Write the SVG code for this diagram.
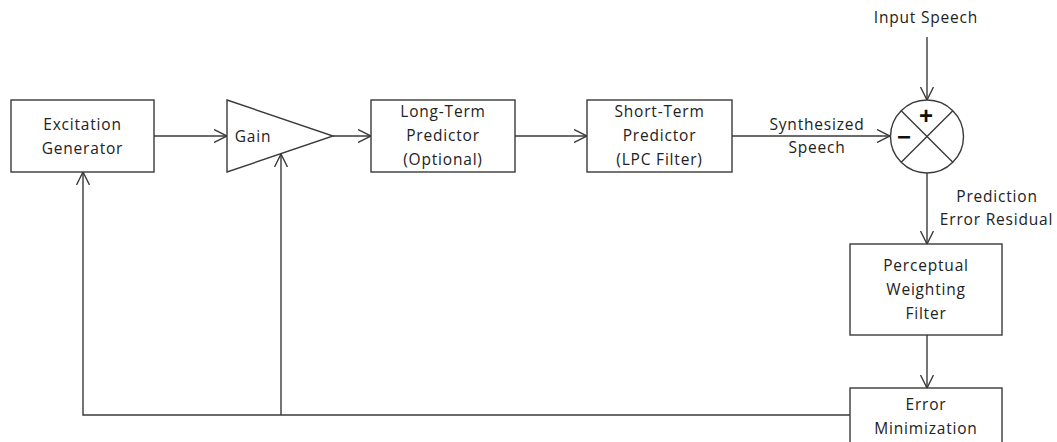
<svg xmlns="http://www.w3.org/2000/svg" width="1057" height="442" viewBox="0 0 1057 442">
  <style>
    .box { fill: #ffffff; stroke: #3a3a3a; stroke-width: 1.4; }
    .wire { fill: none; stroke: #3a3a3a; stroke-width: 1.4; }
    .lbl { font-family: "Open Sans", "Liberation Sans", sans-serif; font-size: 15.5px; letter-spacing: 0.8px; fill: #222222; text-anchor: middle; }
    .sign { font-family: "Liberation Sans", "DejaVu Sans", sans-serif; font-weight: bold; font-size: 24px; fill: #111111; text-anchor: middle; }
  </style>
  <defs>
    <marker id="arrow" viewBox="0 0 14 14" refX="13" refY="7" markerWidth="14" markerHeight="14" markerUnits="userSpaceOnUse" orient="auto">
      <polyline points="0,0.5 13,7 0,13.5" fill="none" stroke="#3a3a3a" stroke-width="1.4"/>
    </marker>
  </defs>
  <rect width="1057" height="442" fill="#ffffff"/>

  <!-- connectors -->
  <g id="connectors">
    <line class="wire" x1="154" y1="136" x2="227" y2="136" marker-end="url(#arrow)"/>
    <line class="wire" x1="333" y1="136" x2="371" y2="136" marker-end="url(#arrow)"/>
    <line class="wire" x1="515" y1="136" x2="587" y2="136" marker-end="url(#arrow)"/>
    <line class="wire" x1="732" y1="136" x2="890" y2="136" marker-end="url(#arrow)"/>
    <line class="wire" x1="927" y1="37" x2="927" y2="100" marker-end="url(#arrow)"/>
    <line class="wire" x1="927" y1="173" x2="927" y2="244" marker-end="url(#arrow)"/>
    <line class="wire" x1="927" y1="335" x2="927" y2="388" marker-end="url(#arrow)"/>
    <polyline class="wire" points="850,415 83,415 83,172" marker-end="url(#arrow)"/>
    <line class="wire" x1="281" y1="415" x2="281" y2="154" marker-end="url(#arrow)"/>
    <text class="lbl" x="817" y="129.5">Synthesized</text>
    <text class="lbl" x="817" y="153">Speech</text>
    <text class="lbl" x="997" y="201.5">Prediction</text>
    <text class="lbl" x="996.5" y="225">Error Residual</text>
  </g>

  <g id="input-speech">
    <text class="lbl" x="926" y="22.5">Input Speech</text>
  </g>

  <g id="excitation-generator">
    <rect class="box" x="11" y="100" width="143" height="72"/>
    <text class="lbl" x="82.5" y="129.5">Excitation</text>
    <text class="lbl" x="82.5" y="153.5">Generator</text>
  </g>

  <g id="gain">
    <polygon class="box" points="227,100 333,136 227,172"/>
    <text class="lbl" x="253" y="141.5">Gain</text>
  </g>

  <g id="long-term-predictor">
    <rect class="box" x="371" y="100" width="144" height="72"/>
    <text class="lbl" x="443" y="117">Long-Term</text>
    <text class="lbl" x="443" y="141">Predictor</text>
    <text class="lbl" x="443" y="165">(Optional)</text>
  </g>

  <g id="short-term-predictor">
    <rect class="box" x="587" y="100" width="145" height="72"/>
    <text class="lbl" x="659.5" y="117">Short-Term</text>
    <text class="lbl" x="659.5" y="141">Predictor</text>
    <text class="lbl" x="659.5" y="165">(LPC Filter)</text>
  </g>

  <g id="summing-junction">
    <circle class="box" cx="927" cy="136.5" r="36.5"/>
    <line class="wire" x1="901.2" y1="110.7" x2="952.8" y2="162.3" stroke-width="1"/>
    <line class="wire" x1="952.8" y1="110.7" x2="901.2" y2="162.3" stroke-width="1"/>
    <text class="sign" x="926" y="124">+</text>
    <text class="sign" x="904" y="145">−</text>
  </g>

  <g id="perceptual-weighting-filter">
    <rect class="box" x="850" y="244" width="152" height="91"/>
    <text class="lbl" x="926" y="271">Perceptual</text>
    <text class="lbl" x="926" y="295">Weighting</text>
    <text class="lbl" x="926" y="319">Filter</text>
  </g>

  <g id="error-minimization">
    <rect class="box" x="850" y="388" width="152" height="70"/>
    <text class="lbl" x="926" y="410">Error</text>
    <text class="lbl" x="926" y="433.5">Minimization</text>
  </g>
</svg>
